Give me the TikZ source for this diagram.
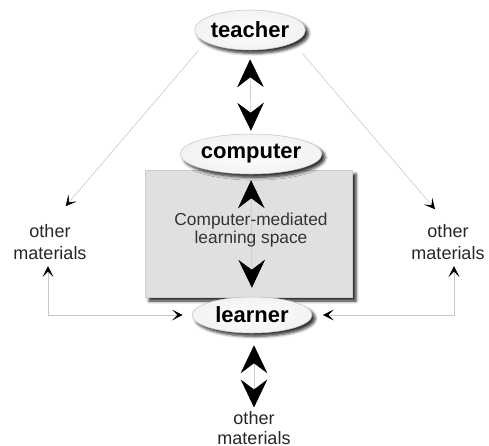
\documentclass[tikz,border=0pt]{standalone}
\usepackage{fontspec}
\setmainfont{Liberation Sans}
\usetikzlibrary{arrows.meta,shapes.geometric,shadows.blur,calc}
\begin{document}
\begin{tikzpicture}[x=0.75pt,y=-0.75pt,
  actor/.style={ellipse, inner sep=0pt, minimum height=30pt,
    draw=gray!45, line width=0.4pt, inner color=white, outer color=gray!10,
    blur shadow={shadow xshift=2.5pt, shadow yshift=-2.5pt,
      shadow opacity=80, shadow blur steps=5},
    font=\fontsize{16.5}{19}\selectfont\bfseries},
  material/.style={align=center, inner sep=0pt, text=black!85},
  space/.style={fill=gray!24, draw=gray!40, line width=0.3pt, inner sep=0pt,
    minimum width=155.25pt, minimum height=95.25pt,
    blur shadow={shadow xshift=3pt, shadow yshift=-3pt,
      shadow opacity=85, shadow blur steps=4}},
  duplex/.style={draw=gray!40, line width=0.5pt,
    {Stealth[length=21pt,width=20pt,inset=7.5pt,color=black]}-{Stealth[length=21pt,width=20pt,inset=7.5pt,color=black]}},
  feed/.style={draw=gray!45, line width=0.4pt},
  onetip/.style={-{Stealth[length=8pt,width=8pt,inset=4pt,color=black]}},
  twotips/.style={{Stealth[length=8pt,width=8pt,inset=4pt,color=black]}-{Stealth[length=8pt,width=8pt,inset=4pt,color=black]}},
]
\useasboundingbox (0,0) rectangle (489,446);

% learning space panel
\node[space] (area) at (248.5,233.5) {};

% participants
\node[actor, minimum width=82pt] (teacher) at (250,30) {teacher};
\node[actor, minimum width=101pt] (computer) at (251,154) {computer};
\node[actor, minimum width=90pt, minimum height=27pt] (learner) at (252,315) {learner};

% other materials
\node[material, font=\fontsize{13.5}{16}\selectfont] (oml) at (50,242) {other\\materials};
\node[material, font=\fontsize{13.5}{16}\selectfont] (orm) at (448,242) {other\\materials};
\node[material, font=\fontsize{13.5}{14.5}\selectfont] (omb) at (254,428) {other\\materials};

% two-way links along the centre
\draw[duplex, shorten <=6.75pt, shorten >=2.25pt] (teacher.south) -- (computer.north);
\draw[duplex, shorten <=4.5pt, shorten >=6.75pt] (computer.south) -- (learner.north);
\draw[duplex, shorten <=9pt, shorten >=3pt] (learner.south -| omb.north) -- (omb.north);

% teacher pointing to the side materials
\draw[feed, onetip, shorten >=18pt] ($(teacher.south west)+(-12,6)$) -- (oml.north);
\draw[feed, onetip, shorten >=15pt] ($(teacher.south east)+(13,9)$) -- (orm.north);

% side materials and learner
\draw[feed, twotips, shorten <=5pt, shorten >=6.75pt] ([xshift=-1.5pt]oml.south) |- (learner.west);
\draw[feed, twotips, shorten <=5pt, shorten >=8pt] ([xshift=4.5pt]orm.south) |- (learner.east);

% panel caption
\node[align=center, inner sep=0pt, text=black!80, font=\fontsize{13}{11.5}\selectfont] (caption) at (251,230) {Computer-mediated\\learning space};
\end{tikzpicture}
\end{document}
